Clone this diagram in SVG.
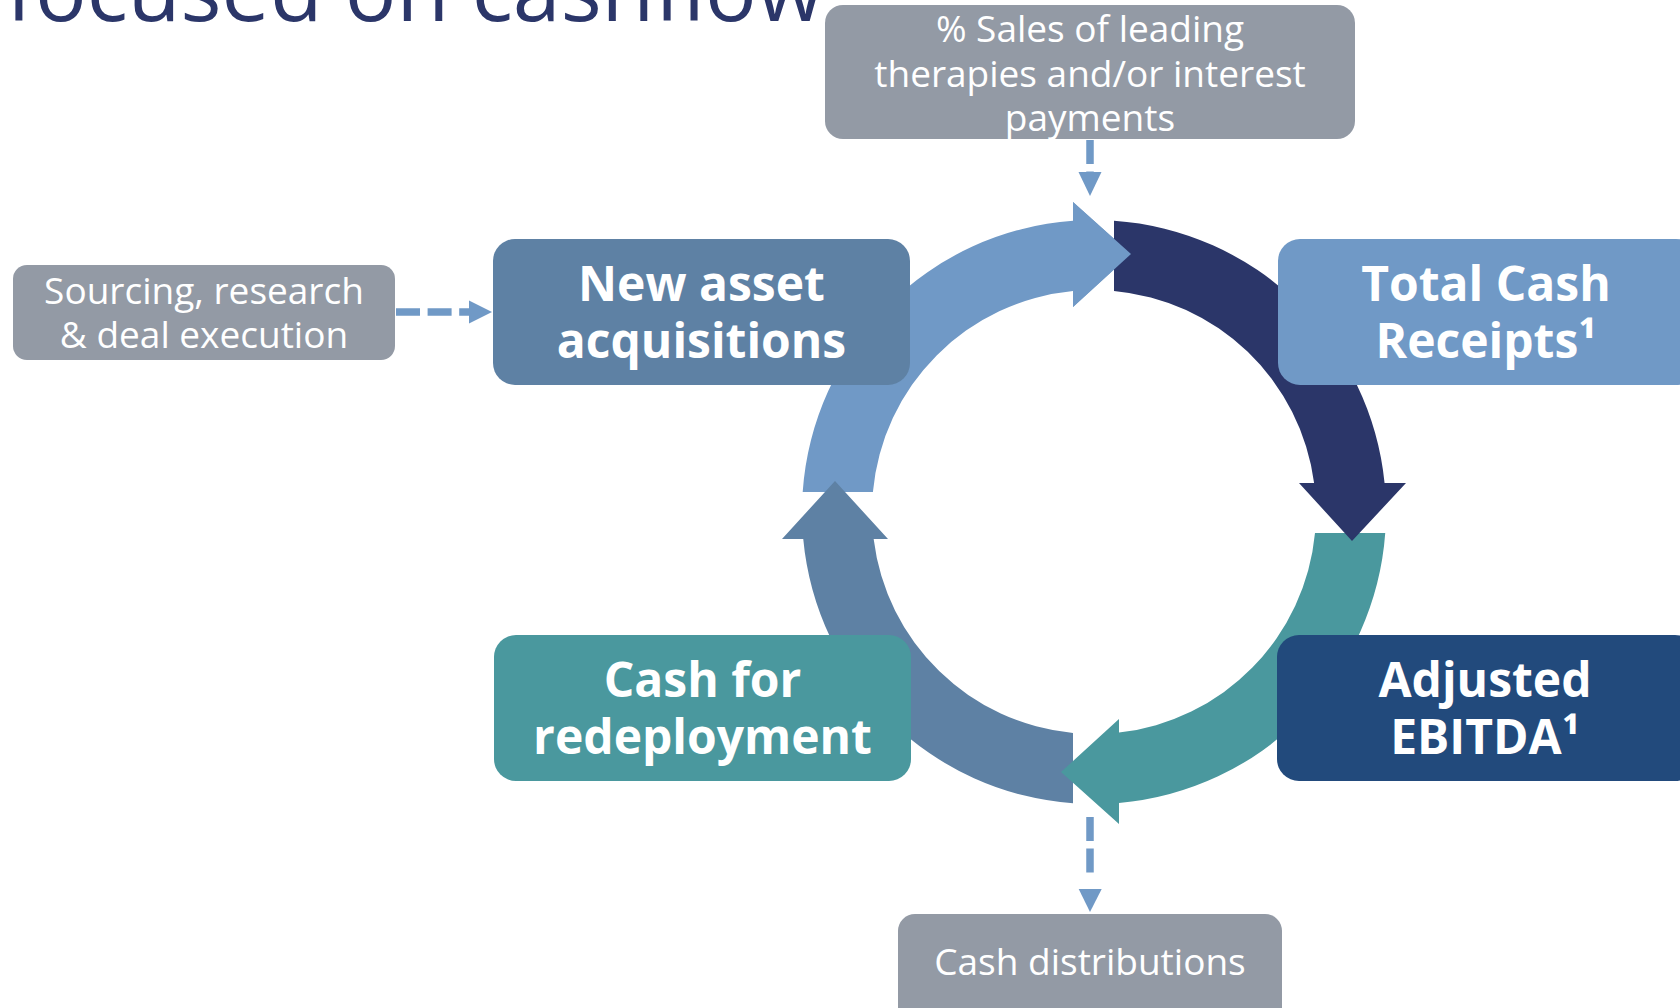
<svg xmlns="http://www.w3.org/2000/svg" width="1680" height="1008" viewBox="0 0 1680 1008">
<defs>
<style>
.t{font-family:"Open Sans","Liberation Sans",sans-serif;fill:#fff;text-anchor:middle}
.b{font-weight:700;font-size:48px}
.r{font-weight:400;font-size:37px}
.gray{fill:#939aa5}
.dash{stroke:#7099c6;stroke-width:7.5;stroke-dasharray:24 7.6;fill:none}
.head{fill:#7099c6}
.title{font-family:"Open Sans","Liberation Sans",sans-serif;font-size:86px;fill:#2b3669}
</style>
</defs>
<rect width="1680" height="1008" fill="#ffffff"/>
<text class="title" x="6" y="21">focused on cashflow</text>

<g id="connectors">
  <path id="arc-acq-to-receipts" fill="#7099c6" d="M 802.69 492 A 292 292 0 0 1 1073 220.76 L 1073 202 L 1131 254 L 1073 307 L 1073 291 A 222 222 0 0 0 872.9 492 Z"/>
  <path id="arc-redeploy-to-acq" fill="#5e81a4" d="M 1073 803.24 A 292 292 0 0 1 803.25 539 L 782 539 L 835 481 L 888 539 L 873.65 539 A 222 222 0 0 0 1073 733 Z"/>
  <path id="arc-ebitda-to-redeploy" fill="#4a989e" d="M 1385.24 533 A 292 292 0 0 1 1119 802.93 L 1119 824 L 1061 772 L 1119 719 L 1119 732.59 A 222 222 0 0 0 1315 533 Z"/>
  <path id="arc-receipts-to-ebitda" fill="#2b3669" d="M 1114 220.69 A 292 292 0 0 1 1384.56 483 L 1406 483 L 1352 541 L 1299 483 L 1314.1 483 A 222 222 0 0 0 1114 290.9 Z"/>
  <path fill="#7099c6" d="M 1073 202 L 1131 254 L 1073 307 Z"/>
  <path class="dash" d="M1090 140 V172"/>
  <path class="head" d="M1078.5 172 L1101.5 172 L1090 196 Z"/>
  <path class="dash" d="M396 312 H469"/>
  <path class="head" d="M469 300.5 L492 312 L469 323.5 Z"/>
  <path class="dash" d="M1090 817 V873"/>
  <path class="head" d="M1078.7 889 L1101.7 889 L1090 912 Z"/>
</g>

<g id="node-sales">
  <rect class="gray" x="825" y="5" width="530" height="134" rx="18"/>
  <text class="t r"><tspan x="1090" y="42">% Sales of leading</tspan><tspan x="1090" y="86.5">therapies and/or interest</tspan><tspan x="1090" y="131">payments</tspan></text>
</g>
<g id="node-sourcing">
  <rect class="gray" x="13" y="265" width="382" height="95" rx="14"/>
  <text class="t r"><tspan x="204" y="304">Sourcing, research</tspan><tspan x="204" y="348">&amp; deal execution</tspan></text>
</g>
<g id="node-acquisitions">
  <rect x="493" y="239" width="417" height="146" rx="22" fill="#5e81a4"/>
  <text class="t b"><tspan x="701.5" y="301">New asset</tspan><tspan x="701.5" y="358">acquisitions</tspan></text>
</g>
<g id="node-receipts">
  <rect x="1278" y="239" width="420" height="146" rx="22" fill="#7099c6"/>
  <text class="t b"><tspan x="1486" y="301">Total Cash</tspan><tspan x="1486" y="358">Receipts¹</tspan></text>
</g>
<g id="node-redeployment">
  <rect x="494" y="635" width="417" height="146" rx="22" fill="#4a989e"/>
  <text class="t b"><tspan x="702.5" y="697">Cash for</tspan><tspan x="702.5" y="754">redeployment</tspan></text>
</g>
<g id="node-ebitda">
  <rect x="1277" y="635" width="420" height="146" rx="22" fill="#224a7c"/>
  <text class="t b"><tspan x="1485" y="697">Adjusted</tspan><tspan x="1485" y="754">EBITDA¹</tspan></text>
</g>
<g id="node-distributions">
  <rect class="gray" x="898" y="914" width="384" height="110" rx="17"/>
  <text class="t r" x="1090" y="975">Cash distributions</text>
</g>
</svg>
